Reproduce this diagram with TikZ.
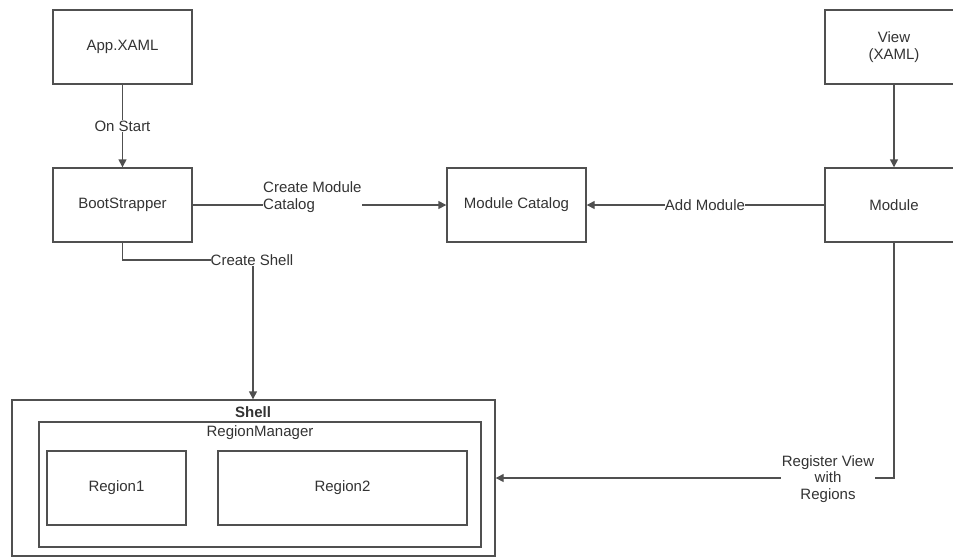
\documentclass[tikz,border=0pt]{standalone}
\usepackage{fontspec}
\setmainfont{Liberation Sans}
\usetikzlibrary{arrows.meta}
\definecolor{ln}{HTML}{505050}
\definecolor{tx}{HTML}{333333}
\tikzset{
  box/.style={draw=ln, line width=1.4pt, fill=white, text=tx, align=center, inner sep=0pt},
  conn/.style={draw=ln, line width=1.4pt},
  arr/.style={conn, -{Triangle[length=8pt,width=8pt]}},
  lbl/.style={fill=white, text=tx, inner sep=1pt, align=center},
  every node/.style={font=\fontsize{15}{16.5}\selectfont}
}
\begin{document}
\begin{tikzpicture}[x=1pt,y=-1pt]
\useasboundingbox (0,0) rectangle (953,558);
\clip (0,0) rectangle (953,558);
% boxes
\node[box, minimum width=139pt, minimum height=74pt] (app) at (122.5,47) {App.XAML};
\node[box, minimum width=139pt, minimum height=74pt] (boot) at (122.5,205) {BootStrapper};
\node[box, minimum width=139pt, minimum height=74pt] (cat) at (516.5,205) {Module Catalog};
\node[box, minimum width=138pt, minimum height=74pt] (view) at (894,47) {View\\(XAML)};
\node[box, minimum width=138pt, minimum height=74pt] (mod) at (894,205) {Module};
\node[box, minimum width=483pt, minimum height=156pt] (shell) at (253.5,478) {};
\node[box, minimum width=442pt, minimum height=125pt] (rm) at (260,484.5) {};
\node[box, minimum width=139pt, minimum height=74pt] (r1) at (116.5,488) {Region1};
\node[box, minimum width=249pt, minimum height=74pt] (r2) at (342.5,488) {Region2};
\node[text=tx, inner sep=0pt] (shelllbl) at (253,412) {\textbf{Shell}};
\node[text=tx, inner sep=0pt] (rmlbl) at (260,433) {RegionManager};
% connectors
\draw[arr] (app.south) -- node[lbl] (onstart) {On Start} (boot.north);
\draw[arr] (view.south) -- (mod.north);
\draw[arr] (boot.east) -- (cat.west);
\node[lbl, align=left, inner sep=0pt, anchor=west] (cml) at (263,198) {Create Module\\Catalog\strut};
\draw[arr] (mod.west) -- (cat.east);
\node[lbl, inner sep=0pt] (addm) at (705,205) {Add Module};
\coordinate (csc) at (253,260);
\draw[arr] (boot.south) |- (csc) -- (csc |- shell.north);
\node[lbl, inner sep=0pt] (csl) at (252,260) {Create Shell};
\draw[arr] (mod.south) |- (shell.east);
\node[lbl, inner sep=1pt] (reg) at (828,479) {Register View\\with\\Regions};
\end{tikzpicture}
\end{document}
